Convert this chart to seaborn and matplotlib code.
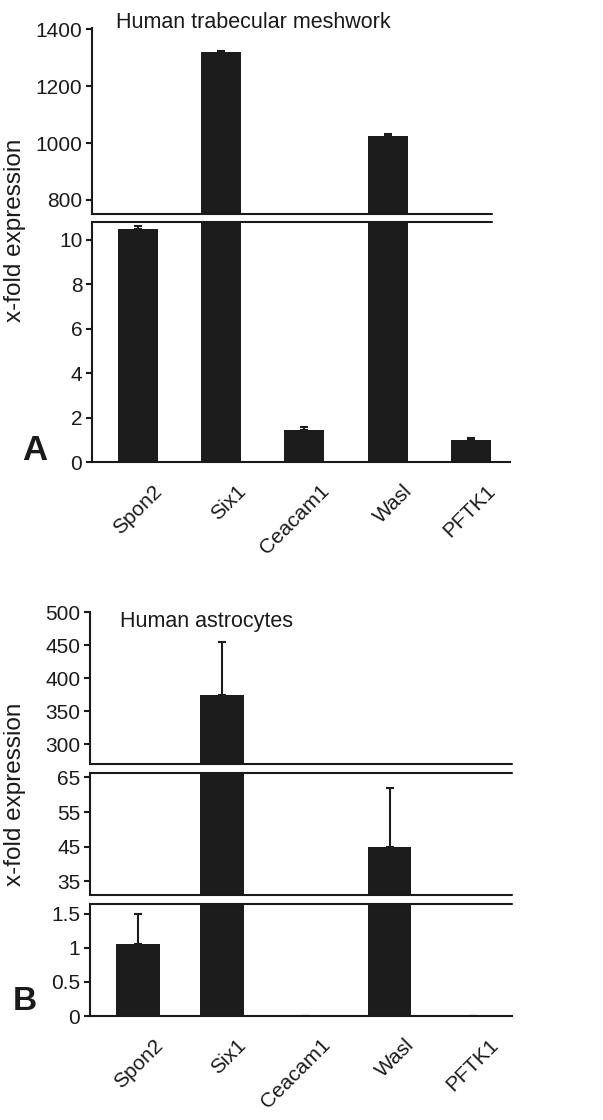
import numpy as np
import pandas as pd
import matplotlib
matplotlib.use("Agg")
import matplotlib.pyplot as plt
import matplotlib.ticker as mticker
from matplotlib.transforms import ScaledTranslation
import seaborn as sns

# data
genes = ["Spon2", "Six1", "Ceacam1", "Wasl", "PFTK1"]
tm_vals = [10.5, 1320, 1.45, 1025, 1.0]          # human trabecular meshwork
tm_err = [0.12, 3, 0.12, 5, 0.08]
ast_vals = [1.05, 375, 0.0, 45, 0.0]             # human astrocytes
ast_err = [0.45, 80, 0.0, 17, 0.0]

# broken axis segments (limits) and tick marks
tm_segments = [(750, 1405), (0, 10.8)]
tm_ticks = [[800, 1000, 1200, 1400], [0, 2, 4, 6, 8, 10]]
ast_segments = [(270, 500), (31, 66.3), (0, 1.64)]
ast_ticks = [[300, 350, 400, 450, 500], [35, 45, 55, 65], [0, 0.5, 1, 1.5]]

sns.set_style("ticks")
plt.rcParams["font.family"] = ["Liberation Sans", "DejaVu Sans"]
plt.rcParams["font.size"] = 15

W, H = 603, 1120
fig = plt.figure(figsize=(W / 100, H / 100), dpi=100)
bar_col = "#1c1c1c"
txt_col = "#1a1a1a"


def px_axes(left, right, top, bottom):
    return fig.add_axes([left / W, 1 - bottom / H, (right - left) / W, (bottom - top) / H])


def draw_panel(vals, err, segs, ticks, boxes, xlim, width, line_right):
    df = pd.DataFrame({"gene": genes, "value": vals})
    axes = []
    for i, (seg, tk, (top, bottom)) in enumerate(zip(segs, ticks, boxes)):
        ax = px_axes(boxes_left, boxes_right, top, bottom)
        sns.barplot(data=df, x="gene", y="value", order=genes, color=bar_col,
                    saturation=1, width=width, linewidth=0, ax=ax)
        ax.errorbar(np.arange(len(genes)), vals, yerr=[np.zeros(len(err)), err],
                    fmt="none", ecolor=bar_col, elinewidth=1.5, capsize=3, capthick=1.5)
        ax.set_ylim(*seg)
        ax.set_xlim(*xlim)
        ax.set_yticks(tk)
        ax.yaxis.set_major_formatter(mticker.FuncFormatter(lambda v, p: f"{v:g}"))
        ax.set_xlabel("")
        ax.set_ylabel("")
        sns.despine(ax=ax, top=True, right=True, bottom=True)
        ax.spines["left"].set_linewidth(1.5)
        ax.spines["left"].set_color(txt_col)
        ax.tick_params(axis="y", length=4, width=1.5, pad=3, labelsize=15,
                       colors=txt_col)
        ax.tick_params(axis="x", length=0)
        frac = (line_right - boxes_left) / (boxes_right - boxes_left)
        if i > 0:
            ax.axhline(seg[1], xmin=0, xmax=frac, color=txt_col, lw=1.5, clip_on=False)
        if i < len(segs) - 1:
            ax.axhline(seg[0], xmin=0, xmax=frac, color=txt_col, lw=1.5, clip_on=False)
            ax.set_xticklabels([])
        else:
            ax.spines["bottom"].set_visible(True)
            ax.spines["bottom"].set_linewidth(1.5)
            ax.spines["bottom"].set_color(txt_col)
            ax.tick_params(axis="x", pad=14, labelsize=15, colors=txt_col)
            for lab in ax.get_xticklabels():
                lab.set_rotation(45)
                lab.set_ha("right")
                lab.set_rotation_mode("anchor")
                lab.set_transform(lab.get_transform() +
                                  ScaledTranslation(0.15, 0, fig.dpi_scale_trans))
        ax.patch.set_alpha(0)
        axes.append(ax)
    return axes


# panel A
boxes_left, boxes_right = 92, 510
draw_panel(tm_vals, tm_err, tm_segments, tm_ticks, [(28, 214), (222, 462)],
           (-0.55, 4.47), 0.48, 492)

# panel B
boxes_left, boxes_right = 90, 512
draw_panel(ast_vals, ast_err, ast_segments, ast_ticks,
           [(612, 764), (773, 895), (904, 1016)], (-0.57, 4.46), 0.52, 512)

fig.text(116 / W, 1 - 22 / H, "Human trabecular meshwork", fontsize=15.5,
         color=txt_col, ha="left", va="center")
fig.text(120 / W, 1 - 622 / H, "Human astrocytes", fontsize=15.5,
         color=txt_col, ha="left", va="center")
fig.text(15 / W, 1 - 230 / H, "x-fold expression", fontsize=17.5, rotation=90,
         color=txt_col, ha="center", va="center")
fig.text(15 / W, 1 - 794 / H, "x-fold expression", fontsize=17.5, rotation=90,
         color=txt_col, ha="center", va="center")
fig.text(22 / W, 1 - 450 / H, "A", fontsize=25, fontweight="bold",
         color=txt_col, ha="left", va="center")
fig.text(13 / W, 1 - 1001 / H, "B", fontsize=24, fontweight="bold",
         color=txt_col, ha="left", va="center")

fig.savefig("out.png", dpi=100, facecolor="white")
